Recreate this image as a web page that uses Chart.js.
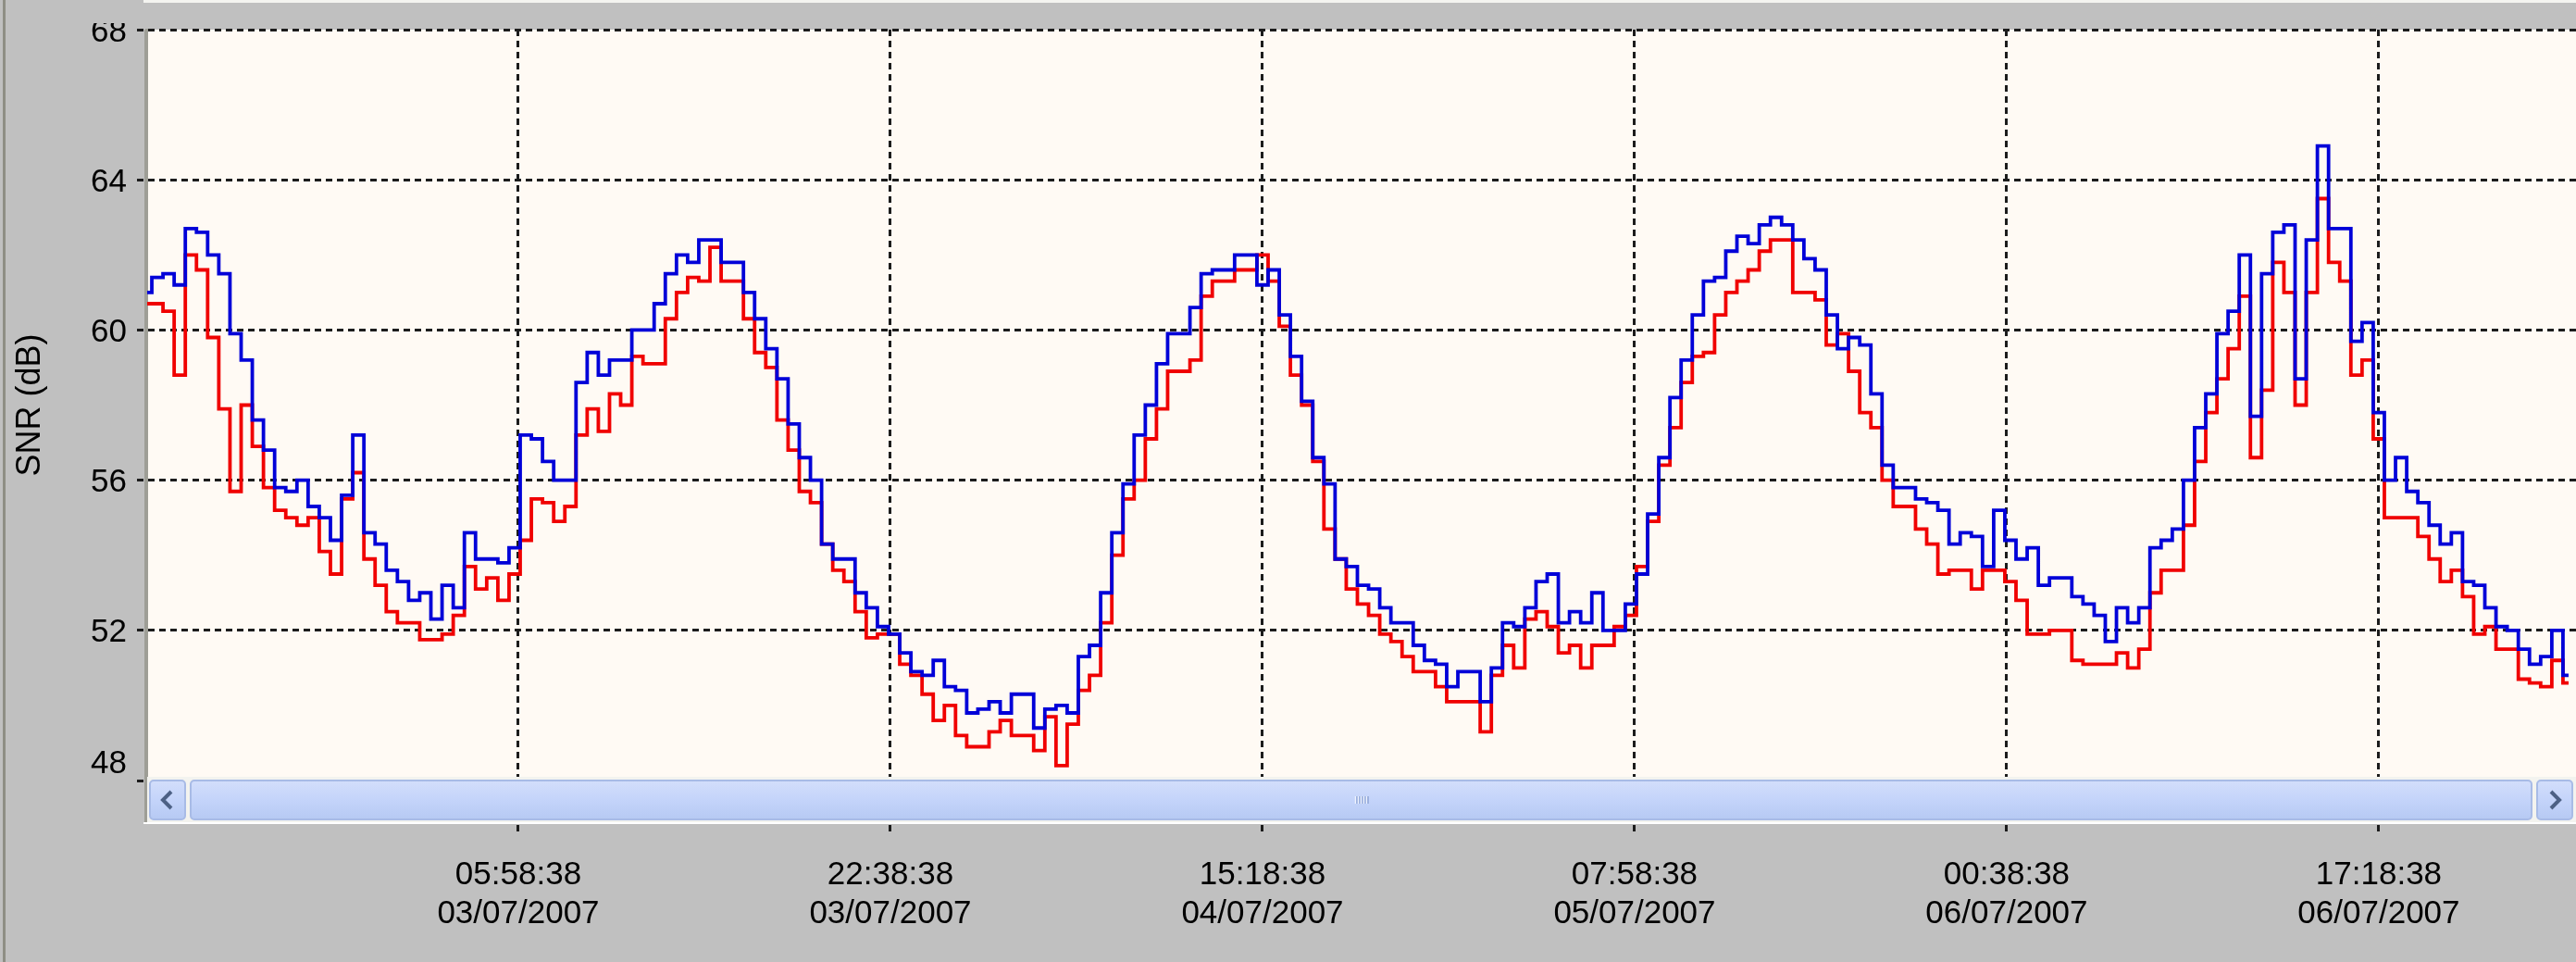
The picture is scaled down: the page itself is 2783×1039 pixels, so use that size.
<!DOCTYPE html>
<html>
<head>
<meta charset="utf-8">
<title>SNR (dB)</title>
<script src="https://cdn.jsdelivr.net/npm/chart.js@4.4.1/dist/chart.umd.min.js"></script>
<style>
  html, body { margin: 0; padding: 0; background: #c0c0c0; overflow: hidden; }
  canvas { display: block; }
</style>
</head>
<body>
<canvas id="snrChart" width="2783" height="1039"></canvas>
<script>
// one reading every 30 minutes, starting 02/07/2007 13:18:38
const sampleStep = 30;
const startTime = Date.UTC(2007, 6, 2, 13, 18, 38);
const xMax = 6530;                                   // minutes shown in the window
const xTickValues = [1000, 2000, 3000, 4000, 5000, 6000];
const yTicks = [48, 52, 56, 60, 64, 68];

const blueSnr = [
  61.0, 61.4, 61.5, 61.2, 62.7, 62.6, 62.0, 61.5, 59.9, 59.2,
  57.6, 56.8, 55.8, 55.7, 56.0, 55.3, 55.0, 54.4, 55.6, 57.2,
  54.6, 54.3, 53.6, 53.3, 52.8, 53.0, 52.3, 53.2, 52.6, 54.6,
  53.9, 53.9, 53.8, 54.2, 57.2, 57.1, 56.5, 56.0, 56.0, 58.6,
  59.4, 58.8, 59.2, 59.2, 60.0, 60.0, 60.7, 61.5, 62.0, 61.8,
  62.4, 62.4, 61.8, 61.8, 61.0, 60.3, 59.5, 58.7, 57.5, 56.6,
  56.0, 54.3, 53.9, 53.9, 53.0, 52.6, 52.1, 51.9, 51.4, 50.9,
  50.8, 51.2, 50.5, 50.4, 49.8, 49.9, 50.1, 49.8, 50.3, 50.3,
  49.4, 49.9, 50.0, 49.8, 51.3, 51.6, 53.0, 54.6, 55.9, 57.2,
  58.0, 59.1, 59.9, 59.9, 60.6, 61.5, 61.6, 61.6, 62.0, 62.0,
  61.2, 61.6, 60.4, 59.3, 58.1, 56.6, 55.9, 53.9, 53.7, 53.2,
  53.1, 52.6, 52.2, 52.2, 51.6, 51.2, 51.1, 50.5, 50.9, 50.9,
  50.1, 51.0, 52.2, 52.1, 52.6, 53.3, 53.5, 52.2, 52.5, 52.2,
  53.0, 52.0, 52.0, 52.7, 53.5, 55.1, 56.6, 58.2, 59.2, 60.4,
  61.3, 61.4, 62.1, 62.5, 62.3, 62.8, 63.0, 62.8, 62.4, 61.9,
  61.6, 60.4, 59.5, 59.8, 59.6, 58.3, 56.4, 55.8, 55.8, 55.5,
  55.4, 55.2, 54.3, 54.6, 54.5, 53.7, 55.2, 54.4, 53.9, 54.2,
  53.2, 53.4, 53.4, 52.9, 52.7, 52.4, 51.7, 52.6, 52.2, 52.6,
  54.2, 54.4, 54.7, 56.0, 57.4, 58.3, 59.9, 60.5, 62.0, 57.7,
  61.5, 62.6, 62.8, 58.7, 62.4, 64.9, 62.7, 62.7, 59.7, 60.2,
  57.8, 56.0, 56.6, 55.7, 55.4, 54.8, 54.3, 54.6, 53.3, 53.2,
  52.6, 52.1, 52.0, 51.5, 51.1, 51.3, 52.0, 50.8
];

const redSnr = [
  60.7, 60.7, 60.5, 58.8, 62.0, 61.6, 59.8, 57.9, 55.7, 58.0,
  56.9, 55.8, 55.2, 55.0, 54.8, 55.0, 54.1, 53.5, 55.5, 56.2,
  53.9, 53.2, 52.5, 52.2, 52.2, 51.75, 51.75, 51.9, 52.4, 53.7,
  53.1, 53.4, 52.8, 53.5, 54.4, 55.5, 55.4, 54.9, 55.3, 57.2,
  57.9, 57.3, 58.3, 58.0, 59.3, 59.1, 59.1, 60.3, 61.0, 61.4,
  61.3, 62.2, 61.3, 61.3, 60.3, 59.4, 59.0, 57.6, 56.8, 55.7,
  55.4, 54.3, 53.6, 53.3, 52.5, 51.8, 51.9, 51.9, 51.1, 50.8,
  50.3, 49.6, 50.0, 49.2, 48.9, 48.9, 49.3, 49.6, 49.2, 49.2,
  48.8, 49.7, 48.4, 49.5, 50.4, 50.8, 52.2, 54.0, 55.5, 56.0,
  57.1, 57.9, 58.9, 58.9, 59.2, 60.9, 61.3, 61.3, 61.6, 61.6,
  62.0, 61.3, 60.1, 58.8, 58.0, 56.5, 54.7, 53.9, 53.1, 52.7,
  52.4, 51.9, 51.7, 51.3, 50.9, 50.9, 50.5, 50.1, 50.1, 50.1,
  49.3, 50.8, 51.6, 51.0, 52.3, 52.5, 52.1, 51.4, 51.6, 51.0,
  51.6, 51.6, 52.1, 52.4, 53.7, 54.9, 56.4, 57.4, 58.6, 59.3,
  59.4, 60.4, 61.0, 61.3, 61.6, 62.1, 62.4, 62.4, 61.0, 61.0,
  60.8, 59.6, 59.9, 58.9, 57.8, 57.4, 56.0, 55.3, 55.3, 54.7,
  54.3, 53.5, 53.6, 53.6, 53.1, 53.6, 53.6, 53.3, 52.8, 51.9,
  51.9, 52.0, 52.0, 51.2, 51.1, 51.1, 51.1, 51.4, 51.0, 51.5,
  53.0, 53.6, 53.6, 54.8, 56.5, 57.8, 58.7, 59.5, 60.9, 56.6,
  58.4, 61.8, 61.0, 58.0, 61.0, 63.5, 61.8, 61.3, 58.8, 59.2,
  57.1, 55.0, 55.0, 55.0, 54.5, 53.9, 53.3, 53.6, 52.9, 51.9,
  52.1, 51.5, 51.5, 50.7, 50.6, 50.5, 51.2, 50.6
];

const minutes = blueSnr.map((v, i) => i * sampleStep);

const pad2 = n => String(n).padStart(2, '0');
function timeLabel(min) {
    const d = new Date(startTime + min * 60000);
    return [
        pad2(d.getUTCHours()) + ':' + pad2(d.getUTCMinutes()) + ':' + pad2(d.getUTCSeconds()),
        pad2(d.getUTCDate()) + '/' + pad2(d.getUTCMonth() + 1) + '/' + d.getUTCFullYear()
    ];
}

const GRID = '#1c1c1c';
const labelFont = {family: 'Liberation Sans, Arial, sans-serif', size: 35, lineHeight: 1.2};

// grey window + cream plot background
const panelPlugin = {
    id: 'panel',
    beforeDraw(chart) {
        const {ctx, width, height, chartArea} = chart;
        ctx.save();
        ctx.fillStyle = '#c0c0c0';
        ctx.fillRect(0, 0, width, height);
        ctx.fillStyle = '#fffaf4';
        ctx.fillRect(chartArea.left, chartArea.top, chartArea.right - chartArea.left, chartArea.bottom - chartArea.top);
        ctx.fillStyle = '#f4f4f0';
        ctx.fillRect(155, 0, width - 155, 3);
        ctx.fillStyle = '#8e8e84';
        ctx.fillRect(3, 0, 3, height);
        ctx.restore();
    }
};

// xp style horizontal scrollbar under the plot
const scrollbarPlugin = {
    id: 'scrollbar',
    afterDraw(chart) {
        const {ctx, chartArea} = chart;
        const left = chartArea.left, right = chartArea.right;
        const top = chartArea.bottom - 4, h = 49;
        ctx.save();
        ctx.fillStyle = '#f3f3ef';
        ctx.fillRect(left, top, right - left, h);

        const face = (x, w) => {
            const y = top + 4, hh = h - 7;
            const g = ctx.createLinearGradient(0, y, 0, y + hh);
            g.addColorStop(0, '#d3defb');
            g.addColorStop(0.5, '#c4d4fa');
            g.addColorStop(1, '#b6c9f3');
            ctx.fillStyle = g;
            ctx.strokeStyle = '#a8bbe6';
            ctx.lineWidth = 2;
            ctx.beginPath();
            ctx.roundRect(x, y, w, hh, 4);
            ctx.fill();
            ctx.stroke();
        };
        face(left + 4, 38);
        face(left + 48, right - left - 96);
        face(right - 42, 38);

        ctx.strokeStyle = '#4d6185';
        ctx.lineWidth = 4;
        ctx.lineJoin = 'miter';
        const cy = top + 4 + (h - 7) / 2;
        ctx.beginPath();
        ctx.moveTo(left + 27, cy - 9); ctx.lineTo(left + 18, cy); ctx.lineTo(left + 27, cy + 9);
        ctx.stroke();
        ctx.beginPath();
        ctx.moveTo(right - 27, cy - 9); ctx.lineTo(right - 18, cy); ctx.lineTo(right - 27, cy + 9);
        ctx.stroke();

        // grip
        const gx = (left + 48 + right - 48) / 2;
        ctx.lineWidth = 1.5;
        for (let i = -2; i <= 2; i++) {
            ctx.strokeStyle = '#eef3fe';
            ctx.beginPath(); ctx.moveTo(gx + i * 3, cy - 4); ctx.lineTo(gx + i * 3, cy + 4); ctx.stroke();
            ctx.strokeStyle = '#8ea5d6';
            ctx.beginPath(); ctx.moveTo(gx + i * 3 + 1.5, cy - 4); ctx.lineTo(gx + i * 3 + 1.5, cy + 4); ctx.stroke();
        }

        ctx.fillStyle = '#ffffff';
        ctx.fillRect(left - 3, top + h, right - left + 3, 2);
        ctx.fillStyle = '#9e9e96';
        ctx.fillRect(left - 2, chartArea.top, 3, top + h - chartArea.top);

        // the top label is cut off by the window edge
        ctx.fillStyle = '#c0c0c0';
        ctx.fillRect(8, 0, left - 24, 25);
        ctx.restore();
    }
};

new Chart(document.getElementById('snrChart'), {
    type: 'line',
    data: {
        datasets: [
            {
                label: 'SNR B',
                data: minutes.map((m, i) => ({x: m, y: blueSnr[i]})),
                borderColor: '#0000d8',
                borderWidth: 3.8,
                stepped: 'middle',
                pointRadius: 0,
                fill: false,
            },
            {
                label: 'SNR A',
                data: minutes.map((m, i) => ({x: m, y: redSnr[i]})),
                borderColor: '#f00000',
                borderWidth: 3.8,
                stepped: 'middle',
                pointRadius: 0,
                fill: false,
            },
        ],
    },
    options: {
        responsive: false,
        animation: false,
        layout: {padding: {top: 28, left: 0, right: 0, bottom: 0}},
        plugins: {
            legend: {display: false},
            tooltip: {enabled: false},
        },
        scales: {
            x: {
                type: 'linear',
                min: 0,
                max: xMax,
                afterBuildTicks: s => { s.ticks = xTickValues.map(v => ({value: v})); },
                afterFit: s => { s.height = 196; },
                grid: {
                    color: GRID,
                    tickColor: GRID,
                    lineWidth: 3,
                    tickWidth: 3,
                    tickLength: 56,
                    tickBorderDash: [7, 5],
                },
                border: {display: false, dash: [7, 5]},
                ticks: {
                    autoSkip: false,
                    maxRotation: 0,
                    padding: 25,
                    color: '#000',
                    font: labelFont,
                    callback: v => timeLabel(v),
                },
            },
            y: {
                min: yTicks[0],
                max: yTicks[yTicks.length - 1],
                afterBuildTicks: s => { s.ticks = yTicks.map(v => ({value: v})); },
                afterFit: s => { s.width = 158; },
                grid: {
                    color: GRID,
                    tickColor: GRID,
                    lineWidth: 3,
                    tickWidth: 3,
                    tickLength: 10,
                    tickBorderDash: [7, 5],
                },
                border: {display: true, color: '#9e9e96', width: 3, dash: [7, 5]},
                ticks: {
                    padding: 11,
                    labelOffset: 3,
                    color: '#000',
                    font: labelFont,
                    callback: v => v === yTicks[0] ? [String(v), ''] : String(v),
                },
                title: {
                    display: true,
                    text: 'SNR (dB)',
                    color: '#000',
                    font: {family: 'Liberation Sans, Arial, sans-serif', size: 36},
                    padding: {top: 11, bottom: 0},
                },
            },
        },
    },
    plugins: [panelPlugin, scrollbarPlugin],
});
</script>
</body>
</html>
